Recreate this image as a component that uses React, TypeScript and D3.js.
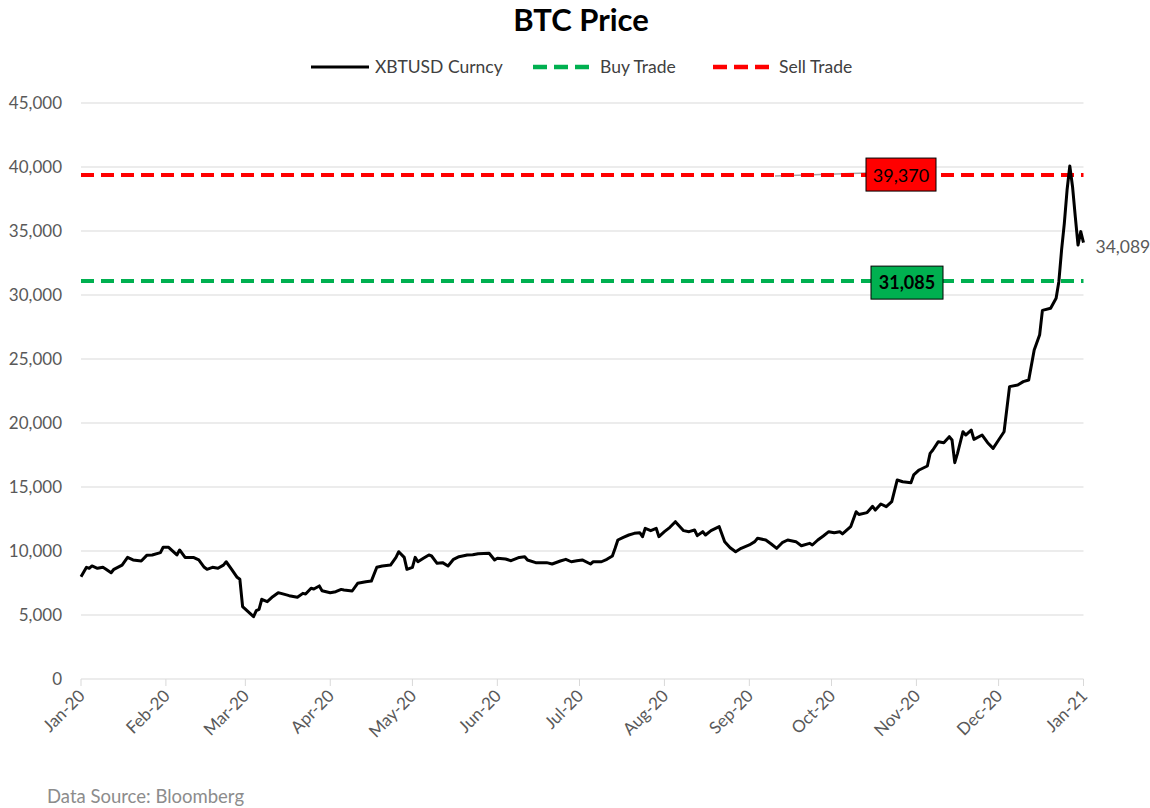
import React from "react";
import * as d3 from "d3";

const dates: string[] = [
  "2020-01-01","2020-01-03","2020-01-04","2020-01-05","2020-01-07","2020-01-09","2020-01-10","2020-01-12","2020-01-13","2020-01-16",
  "2020-01-18","2020-01-20","2020-01-23","2020-01-25","2020-01-27","2020-01-30","2020-01-31","2020-02-02","2020-02-05","2020-02-06",
  "2020-02-08","2020-02-11","2020-02-13","2020-02-15","2020-02-16","2020-02-18","2020-02-20","2020-02-22","2020-02-23","2020-02-25",
  "2020-02-27","2020-02-28","2020-02-29","2020-03-02","2020-03-04","2020-03-05","2020-03-06","2020-03-07","2020-03-09","2020-03-11",
  "2020-03-13","2020-03-14","2020-03-17","2020-03-20","2020-03-22","2020-03-23","2020-03-25","2020-03-26","2020-03-28","2020-03-29",
  "2020-04-01","2020-04-03","2020-04-05","2020-04-06","2020-04-09","2020-04-11","2020-04-14","2020-04-16","2020-04-18","2020-04-20",
  "2020-04-23","2020-04-25","2020-04-26","2020-04-28","2020-04-29","2020-05-01","2020-05-02","2020-05-03","2020-05-05","2020-05-07",
  "2020-05-08","2020-05-10","2020-05-12","2020-05-14","2020-05-16","2020-05-18","2020-05-21","2020-05-23","2020-05-25","2020-05-29",
  "2020-05-31","2020-06-01","2020-06-04","2020-06-06","2020-06-09","2020-06-11","2020-06-12","2020-06-15","2020-06-19","2020-06-21",
  "2020-06-24","2020-06-26","2020-06-28","2020-06-30","2020-07-02","2020-07-05","2020-07-06","2020-07-09","2020-07-11","2020-07-13",
  "2020-07-14","2020-07-15","2020-07-17","2020-07-19","2020-07-21","2020-07-23","2020-07-24","2020-07-25","2020-07-27","2020-07-29",
  "2020-07-30","2020-08-01","2020-08-03","2020-08-05","2020-08-07","2020-08-08","2020-08-10","2020-08-12","2020-08-13","2020-08-15",
  "2020-08-16","2020-08-18","2020-08-21","2020-08-23","2020-08-25","2020-08-27","2020-08-29","2020-09-01","2020-09-03","2020-09-04",
  "2020-09-07","2020-09-09","2020-09-11","2020-09-13","2020-09-15","2020-09-18","2020-09-20","2020-09-23","2020-09-24","2020-09-26",
  "2020-09-28","2020-09-30","2020-10-02","2020-10-04","2020-10-05","2020-10-08","2020-10-10","2020-10-11","2020-10-14","2020-10-16",
  "2020-10-17","2020-10-19","2020-10-21","2020-10-23","2020-10-25","2020-10-27","2020-10-30","2020-10-31","2020-11-02","2020-11-05",
  "2020-11-06","2020-11-07","2020-11-09","2020-11-11","2020-11-13","2020-11-14","2020-11-15","2020-11-16","2020-11-18","2020-11-19",
  "2020-11-21","2020-11-22","2020-11-25","2020-11-27","2020-11-29","2020-12-01","2020-12-03","2020-12-05","2020-12-08","2020-12-10",
  "2020-12-12","2020-12-14","2020-12-16","2020-12-17","2020-12-20","2020-12-22","2020-12-23","2020-12-24","2020-12-25","2020-12-26",
  "2020-12-27","2020-12-28","2020-12-29","2020-12-30","2020-12-31","2021-01-01"
];

const prices: number[] = [
  7990,8725,8650,8830,8650,8725,8590,8300,8570,8900,
  9500,9300,9220,9660,9690,9870,10290,10290,9690,10080,
  9500,9500,9300,8725,8570,8725,8650,8900,9160,8570,
  7945,7790,5650,5260,4870,5340,5440,6230,6040,6430,
  6740,6690,6510,6380,6690,6640,7085,7030,7270,6900,
  6740,6820,7000,6950,6875,7475,7600,7650,8725,8830,
  8900,9500,9945,9500,8570,8725,9500,9160,9430,9690,
  9610,9040,9090,8830,9350,9555,9690,9700,9780,9820,
  9300,9430,9375,9240,9500,9555,9300,9090,9090,8985,
  9220,9350,9160,9240,9300,8985,9160,9160,9350,9610,
  10210,10860,11070,11250,11380,11430,11120,11770,11590,11770,
  11120,11510,11850,12290,11820,11590,11510,11640,11200,11510,
  11250,11590,11900,10730,10260,9945,10210,10470,10730,10990,
  10860,10550,10210,10650,10860,10730,10410,10600,10470,10860,
  11170,11510,11430,11510,11330,11900,13070,12850,13000,13490,
  13200,13670,13460,13850,15550,15410,15340,15940,16330,16640,
  17630,17890,18540,18460,18930,18670,16900,17630,19320,19060,
  19450,18720,19060,18460,18020,18670,19320,22840,22970,23230,
  23360,25700,26900,28800,28960,29740,31040,33520,35600,38200,
  40080,38460,36120,33900,34950,34089
];

const yTicks: number[] = [0, 5000, 10000, 15000, 20000, 25000, 30000, 35000, 40000, 45000];
const monthTicks: string[] = [
  "2020-01-01","2020-02-01","2020-03-01","2020-04-01","2020-05-01","2020-06-01","2020-07-01",
  "2020-08-01","2020-09-01","2020-10-01","2020-11-01","2020-12-01","2021-01-01"
];
const buyLevel = 31085;
const sellLevel = 39370;
const seriesNames: string[] = ["XBTUSD Curncy", "Buy Trade", "Sell Trade"];
const titleText = "BTC Price";
const sourceText = "Data Source: Bloomberg";

const FONT = "Lato, 'Noto Sans', sans-serif";

export default function App() {
  const parse = d3.timeParse("%Y-%m-%d");
  const data = dates.map((d, i) => ({ date: parse(d) as Date, value: prices[i] }));
  const x = d3.scaleTime()
    .domain([parse("2020-01-01") as Date, parse("2021-01-01") as Date])
    .range([81, 1083.5]);
  const y = d3.scaleLinear().domain([0, 45000]).range([679, 103]);
  const fmt = d3.format(",");
  const tfmt = d3.timeFormat("%b-%y");
  const line = d3.line<{ date: Date; value: number }>()
    .x(d => x(d.date))
    .y(d => y(d.value));
  const [x0, x1] = x.range();
  const last = data[data.length - 1];

  return (
    <div style={{ position: "fixed", left: 0, top: 0 }}>
      <svg width={1150} height={808} style={{ display: "block", background: "#fff" }} fontFamily={FONT}>
        <text x={581} y={31} textAnchor="middle" fontSize={31} fontWeight="bold" fill="#000">{titleText}</text>

        {/* legend */}
        <line x1={311} x2={369} y1={67} y2={67} stroke="#000" strokeWidth={3} />
        <text x={375} y={73} fontSize={17.5} fill="#404040">{seriesNames[0]}</text>
        <line x1={533} x2={589} y1={67} y2={67} stroke="#00b050" strokeWidth={4.5} strokeDasharray="14 7" />
        <text x={600} y={73} fontSize={17.5} fill="#404040">{seriesNames[1]}</text>
        <line x1={713} x2={769} y1={67} y2={67} stroke="#ff0000" strokeWidth={4.5} strokeDasharray="14 7" />
        <text x={779} y={73} fontSize={17.5} fill="#404040">{seriesNames[2]}</text>

        {/* gridlines and y labels */}
        {yTicks.map(t => (
          <g key={t}>
            <line x1={x0} x2={x1} y1={y(t)} y2={y(t)} stroke="#d9d9d9" strokeWidth={1} />
            <text x={62} y={y(t) + 6} textAnchor="end" fontSize={17} fill="#595959">{fmt(t)}</text>
          </g>
        ))}

        {/* x ticks */}
        {monthTicks.map(m => {
          const d = parse(m) as Date;
          const px = x(d);
          return (
            <g key={m}>
              <line x1={px} x2={px} y1={679} y2={686} stroke="#d9d9d9" strokeWidth={1} />
              <text transform={`translate(${px + 5},${697}) rotate(-45)`} textAnchor="end" fontSize={17} fill="#595959">{tfmt(d)}</text>
            </g>
          );
        })}

        {/* leader line */}
        <line x1={775} y1={176} x2={866} y2={173} stroke="#a6a6a6" strokeWidth={1.5} />

        {/* reference lines */}
        <line x1={x0} x2={x1} y1={y(sellLevel)} y2={y(sellLevel)} stroke="#ff0000" strokeWidth={4} strokeDasharray="13 7" />
        <line x1={x0} x2={x1} y1={y(buyLevel)} y2={y(buyLevel)} stroke="#00b050" strokeWidth={4} strokeDasharray="13 7" />

        {/* price line */}
        <path d={line(data) || ""} fill="none" stroke="#000" strokeWidth={3} strokeLinejoin="round" />

        {/* labels */}
        <rect x={866} y={y(sellLevel) - 17} width={70} height={33} fill="#ff0000" stroke="#000" strokeWidth={1} />
        <text x={901} y={y(sellLevel) + 7} textAnchor="middle" fontSize={18} fill="#000">{fmt(sellLevel)}</text>
        <rect x={871} y={y(buyLevel) - 15} width={72} height={33} fill="#00b050" stroke="#000" strokeWidth={1} />
        <text x={907} y={y(buyLevel) + 8} textAnchor="middle" fontSize={18} fontWeight="bold" fill="#000">{fmt(buyLevel)}</text>

        <text x={x(last.date) + 12} y={y(last.value) + 10} fontSize={17.5} fill="#595959">{fmt(last.value)}</text>

        <text x={47} y={803} fontSize={18.5} fill="#8c8c8c">{sourceText}</text>
      </svg>
    </div>
  );
}
